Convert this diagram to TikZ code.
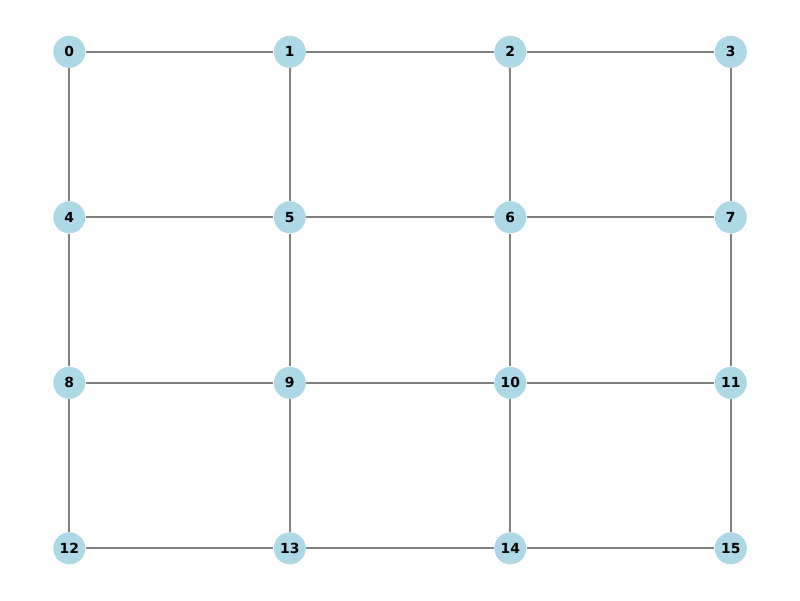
\documentclass[tikz,border=0pt]{standalone}
\usepackage{fontspec}
\setmainfont{DejaVu Sans}
\usepackage{xcolor}
\usepackage{tikz}
\usetikzlibrary{positioning}

\definecolor{lightblue}{HTML}{ADD8E6}
\definecolor{edgegray}{HTML}{808080}

\begin{document}
\begin{tikzpicture}[x=0.02cm, y=-0.02cm,
    vertex/.style={circle, fill=lightblue, minimum size=0.64cm, inner sep=0pt,
        font=\fontsize{7.9}{9}\selectfont\bfseries},
    edge/.style={edgegray, line width=1pt}]
    \useasboundingbox (0,0) rectangle (800,600);

    % Vertices of the grid
    \foreach \r in {0,1,2,3} {
        \foreach \c in {0,1,2,3} {
            \pgfmathtruncatemacro{\n}{4*\r+\c}
            \node[vertex] (v\n) at ({69.3+220.5*\c}, {51.8+165.5*\r}) {\n};
        }
    }

    % Horizontal edges
    \foreach \r in {0,1,2,3} {
        \foreach \c in {0,1,2} {
            \pgfmathtruncatemacro{\a}{4*\r+\c}
            \pgfmathtruncatemacro{\b}{4*\r+\c+1}
            \draw[edge] (v\a) -- (v\b);
        }
    }

    % Vertical edges
    \foreach \r in {0,1,2} {
        \foreach \c in {0,1,2,3} {
            \pgfmathtruncatemacro{\a}{4*\r+\c}
            \pgfmathtruncatemacro{\b}{4*\r+\c+4}
            \draw[edge] (v\a) -- (v\b);
        }
    }

\end{tikzpicture}
\end{document}
